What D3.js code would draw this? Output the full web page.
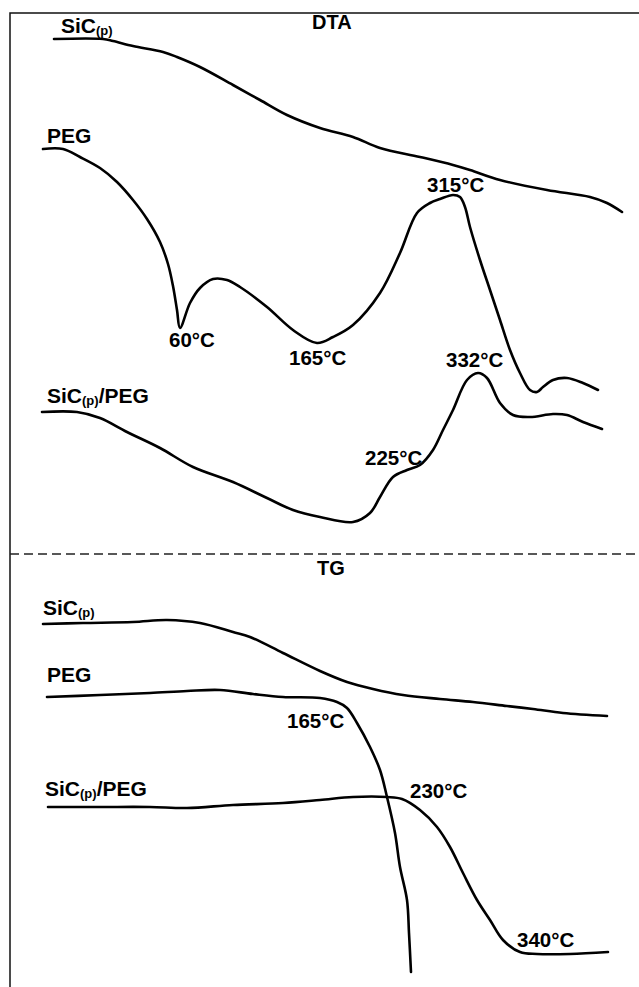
<!DOCTYPE html>
<html>
<head>
<meta charset="utf-8">
<script src="https://cdn.jsdelivr.net/npm/d3@7"></script>
<style>
  body { margin: 0; background: #fff; }
  text { font-family: "Liberation Sans", Arial, sans-serif; font-weight: bold; fill: #000; }
</style>
</head>
<body>
<div class="svgs"></div>
<script>
// curves, [x, signal] in arbitrary units
const dtaSic = [[44,515],[93,515],[103,513],[123,508],[153,502],[167,497],[190,487],[223,469],[250,454],[277,439],[310,426],[343,417],[370,406],[410,397],[443,389],[460,384],[490,374],[537,364],[580,357],[597,351],[612,342]]
const dtaPeg = [[33,405],[53,405],[70,397],[90,386],[107,372],[123,354],[137,335],[150,312],[158,290],[163,268],[167,244],[170,226],[180,251],[190,266],[203,275],[217,274],[230,267],[257,247],[283,224],[307,211],[323,217],[343,229],[370,261],[390,301],[407,341],[420,351],[430,355],[443,359],[450,357],[455,347],[460,327],[470,294],[480,264],[490,234],[500,204],[510,181],[520,164],[527,162],[533,167],[543,174],[557,176],[573,171],[588,164]]
const dtaMix = [[32,142],[67,142],[90,136],[117,122],[150,106],[183,87],[223,72],[257,56],[283,44],[310,37],[343,32],[360,41],[370,57],[383,77],[397,84],[410,89],[423,104],[433,124],[443,144],[457,174],[468,181],[477,176],[490,151],[503,139],[520,137],[543,140],[557,139],[573,132],[592,125]]

const tgSic = [[33,363],[73,364],[123,365],[157,367],[190,364],[223,355],[240,350],[273,334],[310,316],[337,305],[363,298],[393,292],[430,288],[463,285],[497,281],[523,278],[553,274],[597,271]]
const tgPeg = [[37,290],[90,292],[140,294],[177,296],[210,297],[243,293],[273,290],[310,289],[327,285],[337,279],[347,264],[360,240],[370,217],[377,190],[385,154],[390,120],[397,87],[399,54],[401,15]]
const tgMix = [[38,180],[90,180],[140,180],[177,179],[223,182],[273,184],[310,187],[343,190],[377,190],[392,188],[410,177],[427,160],[440,140],[453,114],[467,87],[480,67],[493,47],[510,35],[527,33],[560,33],[598,35]]

// sample names and where their labels sit
const sampleNames = ["SiC", "PEG", "SiC/PEG"]
const dtaNameAt = [[51,521],[37,411],[37,151]]
const tgNameAt = [[33,372],[37,305],[35,191]]

// peak temperatures
const dtaPeaks = ["60", "165", "315", "332", "225"]
const dtaPeakAt = [[159,207],[279,189],[417,362],[436,187],[355,89]]
const tgPeaks = ["165", "230", "340"]
const tgPeakAt = [[277,259],[400,189],[507,40]]

const panelTitles = ["DTA", "TG"]
const titleAt = [[302,525],[307,412]]

const width = 639
const height = 987

const x = d3.scaleLinear().domain([0, 629]).range([10, 639])
const yDta = d3.scaleLinear().domain([0, 541]).range([554, 13])
const yTg = d3.scaleLinear().domain([0, 433]).range([987, 554])

const svg = d3.create("svg")
    .attr("width", width)
    .attr("height", height)
    .attr("viewBox", [0, 0, width, height])

// frame: top and left edges, dashed divider
svg.append("path")
    .attr("fill", "none")
    .attr("stroke", "#111")
    .attr("stroke-width", 1.5)
    .attr("d", `M${x(629)},${yDta(541)}H${x(0)}V${yTg(0)}`)

svg.append("line")
    .attr("x1", x(0)).attr("x2", x(629))
    .attr("y1", yDta(0)).attr("y2", yDta(0))
    .attr("stroke", "#222")
    .attr("stroke-width", 1.3)
    .attr("stroke-dasharray", "9,5")

function drawPanel(y, curves, nameAt, peaks, peakAt, title, tAt) {
    const line = d3.line()
        .x(d => x(d[0]))
        .y(d => y(d[1]))
        .curve(d3.curveCatmullRom.alpha(0.5))

    svg.append("g").selectAll("path")
        .data(curves)
        .join("path")
        .attr("fill", "none")
        .attr("stroke", "#000")
        .attr("stroke-width", 2.6)
        .attr("stroke-linejoin", "round")
        .attr("stroke-linecap", "round")
        .attr("d", line)

    svg.append("text")
        .attr("x", x(tAt[0]))
        .attr("y", y(tAt[1]))
        .style("font-size", "20px")
        .text(title)

    // sample labels, "(p)" as subscript
    sampleNames.forEach((name, i) => {
        const t = svg.append("text")
            .attr("x", x(nameAt[i][0]))
            .attr("y", y(nameAt[i][1]))
            .style("font-size", "21px")
        if (name.startsWith("SiC")) {
            t.append("tspan").text("SiC")
            t.append("tspan").attr("dy", 2).style("font-size", "13px").text("(p)")
            if (name.length > 3) t.append("tspan").attr("dy", -2).text(name.slice(3))
        } else {
            t.text(name)
        }
    })

    svg.append("g").selectAll("text")
        .data(peaks)
        .join("text")
        .attr("x", (d, i) => x(peakAt[i][0]))
        .attr("y", (d, i) => y(peakAt[i][1]))
        .style("font-size", "20.5px")
        .text(d => `${d}°C`)
}

drawPanel(yDta, [dtaSic, dtaPeg, dtaMix], dtaNameAt, dtaPeaks, dtaPeakAt, panelTitles[0], titleAt[0])
drawPanel(yTg, [tgSic, tgPeg, tgMix], tgNameAt, tgPeaks, tgPeakAt, panelTitles[1], titleAt[1])

document.querySelector(".svgs").appendChild(svg.node());
</script>
</body>
</html>
